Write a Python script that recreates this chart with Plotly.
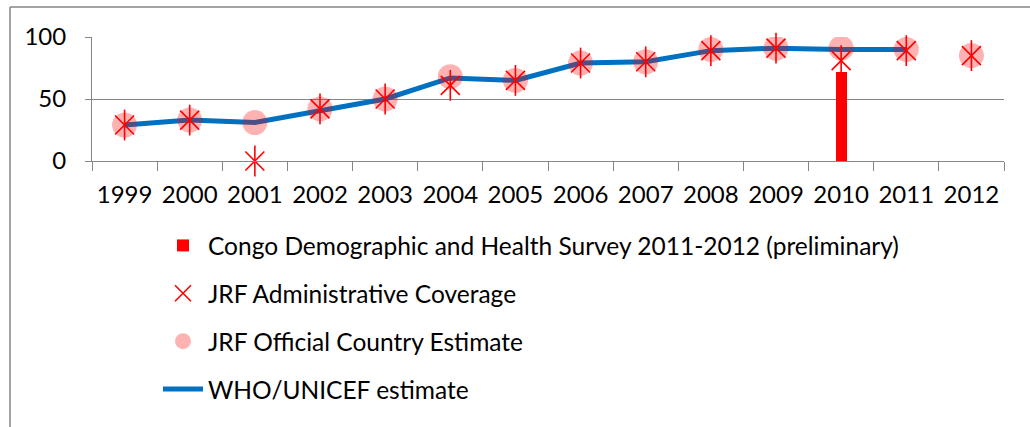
import plotly.graph_objects as go

years = [str(y) for y in range(1999, 2013)]
who_unicef = [29, 33, 31, 41, 50, 67, 65, 79, 80, 89, 91, 90, 90, None]
jrf_admin = [29, 33, 0, 42, 50, 61, 65, 79, 80, 89, 91, 81, 89, 85]
jrf_official = [29, 33, 31, 42, 50, 68, 65, 79, 80, 90, 91, 91, 90, 85]
survey_years = ["2010"]
survey_values = [72]

FONT = "Lato"
GRID = "#868686"

fig = go.Figure()
fig.add_trace(go.Bar(
    x=survey_years, y=survey_values, name="Congo Demographic and Health Survey 2011-2012 (preliminary)",
    marker=dict(color="#FF0000", line=dict(width=0)), width=0.17,
    legendgroup="a", legendrank=1,
))
fig.add_trace(go.Scatter(
    x=years, y=who_unicef, name="WHO/UNICEF estimate", mode="lines",
    line=dict(color="#0070C0", width=5), legendgroup="d", legendrank=4,
))
fig.add_trace(go.Scatter(
    x=years, y=jrf_official, name="JRF Official Country Estimate", mode="markers",
    marker=dict(symbol="circle", size=25, color="rgba(255,0,0,0.3)", line=dict(width=0)),
    legendgroup="c", legendrank=3,
))
fig.add_trace(go.Scatter(
    x=years, y=jrf_admin, name="JRF Administrative Coverage", mode="markers",
    marker=dict(symbol="x-thin-open", size=19, color="#FF0000", line=dict(width=1.6, color="#FF0000")),
    legendgroup="b", legendrank=2, cliponaxis=False,
))
fig.add_trace(go.Scatter(
    x=years, y=jrf_admin, name="JRF Administrative Coverage", mode="markers",
    marker=dict(symbol="line-ns-open", size=22, color="#FF0000", line=dict(width=1.6, color="#FF0000")),
    legendgroup="b", showlegend=False, cliponaxis=False,
))

W, H = 1030, 427
L, R, T, B = 92, 26, 37, 266
pw, ph = W - L - R, H - T - B

def px_x(p):
    return (p - L) / pw

def px_y(p):
    return (H - B - p) / ph

fig.update_layout(
    width=W, height=H,
    margin=dict(l=L, r=R, t=T, b=B, pad=0),
    paper_bgcolor="white", plot_bgcolor="white",
    font=dict(family=FONT, size=24, color="#000000"),
    showlegend=True,
    bargap=0,
    legend=dict(
        x=px_x(158), y=px_y(223), xanchor="left", yanchor="top",
        orientation="v", traceorder="grouped", tracegroupgap=13,
        bgcolor="rgba(0,0,0,0)", font=dict(family=FONT, size=24.5, color="#000000"),
        itemwidth=40,
    ),
    xaxis=dict(
        type="category", categoryorder="array", categoryarray=years,
        showgrid=False, showline=True, linecolor=GRID, linewidth=1,
        ticks="outside", tickson="boundaries", ticklen=9, tickcolor=GRID,
        tickfont=dict(family=FONT, size=24, color="#000000"),
        ticklabelstandoff=12,
        range=[-0.5, 13.5], fixedrange=True,
    ),
    yaxis=dict(
        range=[0, 100], tickvals=[0, 50, 100], showgrid=True, gridcolor=GRID, gridwidth=1,
        showline=True, linecolor=GRID, linewidth=1, ticks="outside", ticklen=6, tickcolor=GRID,
        tickfont=dict(family=FONT, size=24, color="#000000"), zeroline=False,
        ticklabelstandoff=14, fixedrange=True,
    ),
    shapes=[
        dict(type="line", xref="paper", yref="paper", x0=px_x(10), x1=px_x(1030), y0=px_y(7), y1=px_y(7),
             line=dict(color=GRID, width=1.5)),
        dict(type="line", xref="paper", yref="paper", x0=px_x(10), x1=px_x(10), y0=px_y(7), y1=px_y(440),
             line=dict(color=GRID, width=1.5)),
    ],
)

fig.write_html("out.html")
